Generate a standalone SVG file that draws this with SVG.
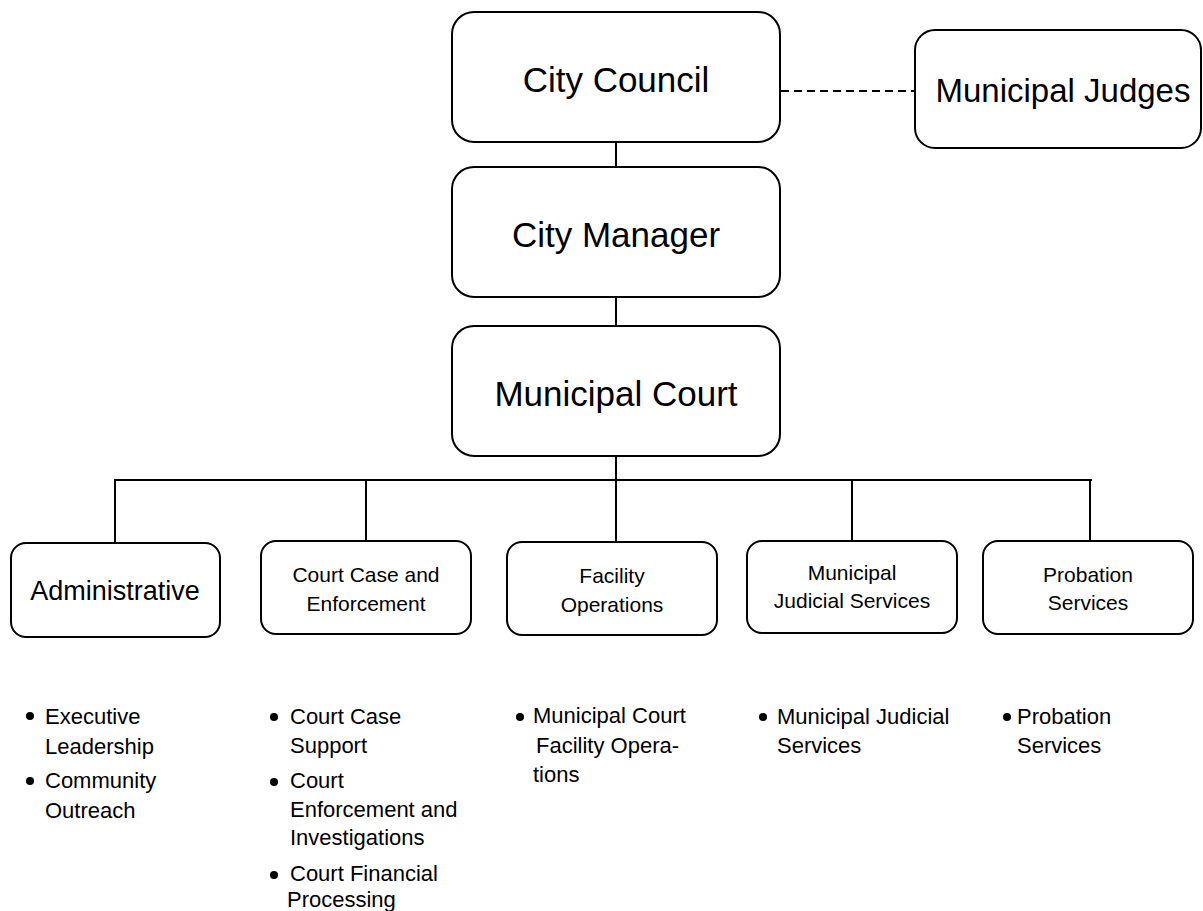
<svg xmlns="http://www.w3.org/2000/svg" width="1203" height="911" viewBox="0 0 1203 911">
<style>
.box{fill:#fff;stroke:#000;stroke-width:2}
.ln{stroke:#000;stroke-width:2;fill:none}
.dash{stroke:#000;stroke-width:1.8;fill:none;stroke-dasharray:8 5}
text{font-family:"Liberation Sans",Arial,sans-serif;fill:#000}
.big{font-size:35px;text-anchor:middle}
.mid{font-size:21px;text-anchor:middle}
.bl{font-size:22px}
.dot{fill:#000}
</style>
<rect width="1203" height="911" fill="#fff"/>
<g id="connectors">
<line class="ln" x1="616" y1="142" x2="616" y2="167"/>
<line class="ln" x1="616" y1="297" x2="616" y2="326"/>
<line class="ln" x1="616" y1="456" x2="616" y2="480"/>
<line class="ln" x1="114" y1="480" x2="1092" y2="480"/>
<line class="ln" x1="115" y1="480" x2="115" y2="543"/>
<line class="ln" x1="366" y1="480" x2="366" y2="541"/>
<line class="ln" x1="616" y1="480" x2="616" y2="542"/>
<line class="ln" x1="852" y1="480" x2="852" y2="541"/>
<line class="ln" x1="1090" y1="480" x2="1090" y2="541"/>
<line class="dash" x1="781" y1="91" x2="915" y2="91"/>
</g>
<g id="city-council">
<rect class="box" x="452" y="12" width="328" height="130" rx="22"/>
<text class="big" x="616" y="92">City Council</text>
</g>
<g id="municipal-judges">
<rect class="box" x="915" y="30" width="286" height="118" rx="20"/>
<text class="big" x="1063" y="102" style="font-size:33px">Municipal Judges</text>
</g>
<g id="city-manager">
<rect class="box" x="452" y="167" width="328" height="130" rx="22"/>
<text class="big" x="616" y="247">City Manager</text>
</g>
<g id="municipal-court">
<rect class="box" x="452" y="326" width="328" height="130" rx="22"/>
<text class="big" x="616" y="406">Municipal Court</text>
</g>
<g id="administrative">
<rect class="box" x="11" y="543" width="209" height="94" rx="15"/>
<text x="115" y="600" style="font-size:27px;text-anchor:middle">Administrative</text>
</g>
<g id="court-case">
<rect class="box" x="261" y="541" width="210" height="93" rx="15"/>
<text class="mid" x="366" y="582">Court Case and</text>
<text class="mid" x="366" y="611">Enforcement</text>
</g>
<g id="facility">
<rect class="box" x="507" y="542" width="210" height="93" rx="15"/>
<text class="mid" x="612" y="583">Facility</text>
<text class="mid" x="612" y="612">Operations</text>
</g>
<g id="judicial">
<rect class="box" x="747" y="541" width="210" height="92" rx="15"/>
<text class="mid" x="852" y="580">Municipal</text>
<text class="mid" x="852" y="608">Judicial Services</text>
</g>
<g id="probation">
<rect class="box" x="983" y="541" width="210" height="93" rx="15"/>
<text class="mid" x="1088" y="582">Probation</text>
<text class="mid" x="1088" y="610">Services</text>
</g>
<g id="list-administrative">
<circle class="dot" cx="30" cy="716" r="4"/>
<text class="bl" x="45" y="724">Executive</text>
<text class="bl" x="45" y="754">Leadership</text>
<circle class="dot" cx="30" cy="781" r="4"/>
<text class="bl" x="45" y="788">Community</text>
<text class="bl" x="45" y="818">Outreach</text>
</g>
<g id="list-court-case">
<circle class="dot" cx="274" cy="717" r="4"/>
<text class="bl" x="290" y="724">Court Case</text>
<text class="bl" x="290" y="753">Support</text>
<circle class="dot" cx="274" cy="782" r="4"/>
<text class="bl" x="290" y="788">Court</text>
<text class="bl" x="290" y="817">Enforcement and</text>
<text class="bl" x="290" y="845">Investigations</text>
<circle class="dot" cx="274" cy="875" r="4"/>
<text class="bl" x="290" y="881">Court Financial</text>
<text class="bl" x="287" y="907">Processing</text>
</g>
<g id="list-facility">
<circle class="dot" cx="520" cy="717" r="4"/>
<text class="bl" x="533" y="723">Municipal Court</text>
<text class="bl" x="536" y="753">Facility Opera-</text>
<text class="bl" x="533" y="782">tions</text>
</g>
<g id="list-judicial">
<circle class="dot" cx="763" cy="717" r="4"/>
<text class="bl" x="777" y="724">Municipal Judicial</text>
<text class="bl" x="777" y="753">Services</text>
</g>
<g id="list-probation">
<circle class="dot" cx="1007" cy="717" r="4"/>
<text class="bl" x="1017" y="724">Probation</text>
<text class="bl" x="1017" y="753">Services</text>
</g>
</svg>
